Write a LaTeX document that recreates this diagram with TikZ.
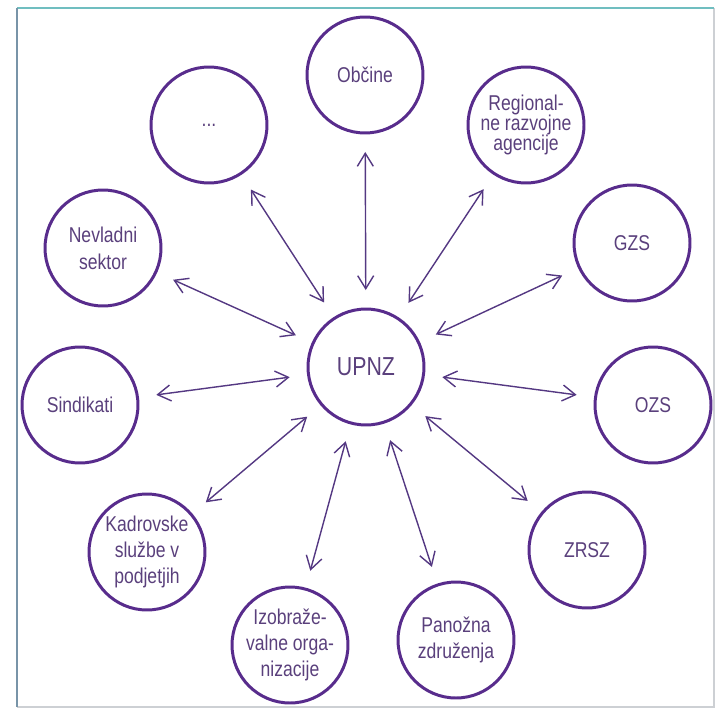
\documentclass[tikz,border=0pt]{standalone}
\usepackage{fontspec}
\setmainfont{Liberation Sans}[FakeStretch=0.82]
\usepackage{tikz}
\usetikzlibrary{arrows.meta,positioning}

\definecolor{ringviolet}{RGB}{88,44,140}
\definecolor{labelviolet}{RGB}{90,64,124}
\definecolor{arrowviolet}{RGB}{84,56,130}
\definecolor{frametop}{RGB}{112,190,192}
\definecolor{frameleft}{RGB}{120,148,168}
\definecolor{frameedge}{RGB}{205,208,212}

\tikzset{
	actor/.style={circle, draw=ringviolet, line width=1.7pt, minimum size=2.32cm,
		inner sep=0pt, outer sep=0pt, text=labelviolet, align=center,
		font=\fontsize{12.2}{14.8}\selectfont},
	link/.style={<->, draw=arrowviolet, line width=0.8pt, shorten >=0.38cm, shorten <=0.38cm}
}

\begin{document}
\begin{tikzpicture}[x=0.02cm, y=-0.02cm, >={Straight Barb[length=0.26cm,width=0.32cm]}]
	\useasboundingbox (0,0) rectangle (719,713);
	% frame
	\draw[frameedge, line width=1pt] (714,8) -- (714,707) -- (17,707);
	\draw[frametop, line width=1pt] (17,8) -- (714,8);
	\draw[frameleft, line width=1.2pt] (17,8) -- (17,707);

	\node[actor, font=\fontsize{14.8}{18}\selectfont] (upnz) at (366,367) {UPNZ};
	\node[actor] (obcine) at (365,75) {Občine};
	\node[actor] (dots) at (209,125) {...};
	\node[actor, font=\fontsize{12.2}{11.6}\selectfont] (rra) at (526,125) {Regional-\\ne razvojne\\agencije};
	\node[actor, font=\fontsize{12.2}{15.4}\selectfont] (nvo) at (103,248) {Nevladni\\sektor};
	\node[actor] (gzs) at (632,243) {GZS};
	\node[actor] (sind) at (80,405) {Sindikati};
	\node[actor] (ozs) at (653,405) {OZS};
	\node[actor] (kadr) at (147,552) {Kadrovske\\službe v\\podjetjih};
	\node[actor] (zrsz) at (587,550) {ZRSZ};
	\node[actor] (izob) at (290,645) {Izobraže-\\valne orga-\\nizacije};
	\node[actor] (pan) at (456,640) {Panožna\\združenja};

	\path[link]
		(upnz) edge (obcine)
		(upnz) edge (dots)
		(upnz) edge (rra)
		(upnz) edge (nvo)
		(upnz) edge (gzs)
		(upnz) edge (sind)
		(upnz) edge (ozs)
		(upnz) edge (kadr)
		(upnz) edge (zrsz)
		(upnz) edge (izob)
		(upnz) edge (pan);
\end{tikzpicture}
\end{document}
